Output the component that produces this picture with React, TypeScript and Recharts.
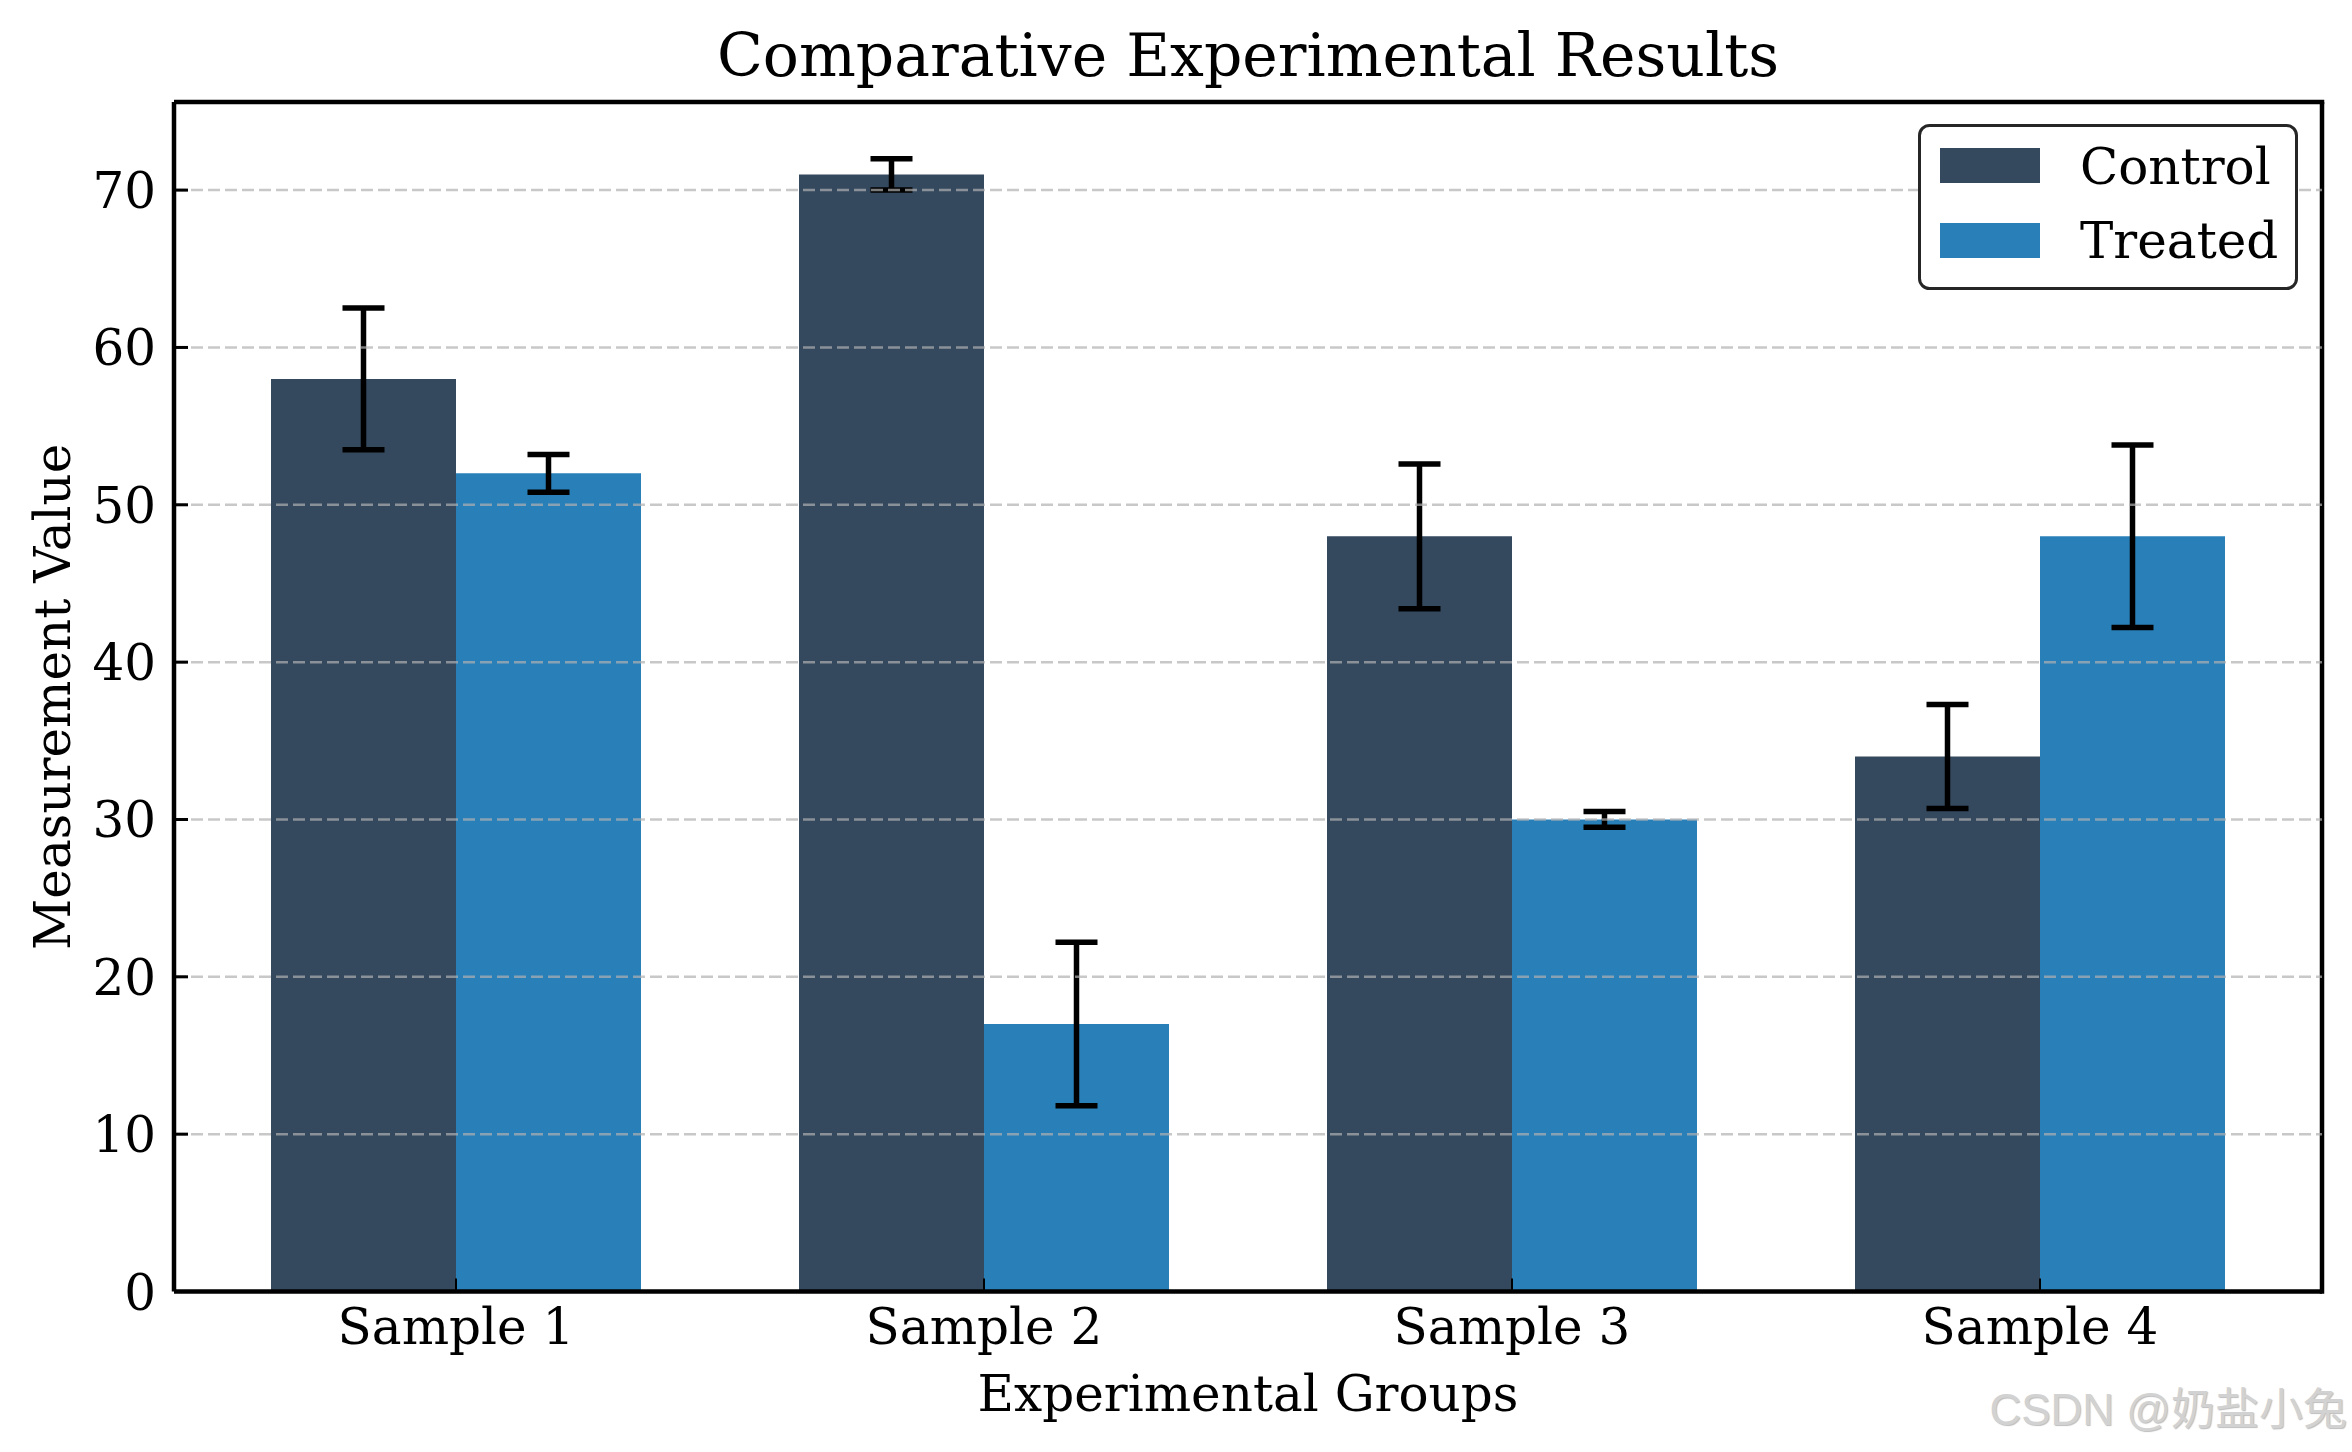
import React from 'react';
import { BarChart, Bar, XAxis, YAxis, ErrorBar, ReferenceLine, ReferenceArea, Legend, Label } from 'recharts';

// ---- data ----
const samples = ['Sample 1', 'Sample 2', 'Sample 3', 'Sample 4'];
const controlValues = [58, 71, 48, 34];
const controlErrors = [4.5, 1.0, 4.6, 3.3];
const treatedValues = [52, 17, 30, 48];
const treatedErrors = [1.2, 5.2, 0.5, 5.8];
const yTicks = [0, 10, 20, 30, 40, 50, 60, 70];
const gridLevels = [10, 20, 30, 40, 50, 60, 70];
const yMax = 75.6;
const seriesNames = ['Control', 'Treated'];
const seriesColors = ['#34495e', '#2980b9'];

const data = samples.map((sample, i) => ({
  sample,
  control: controlValues[i],
  controlErr: controlErrors[i],
  treated: treatedValues[i],
  treatedErr: treatedErrors[i],
}));

const FONT = '"DejaVu Serif", serif';
const W = 2352;
const H = 1452;
const SPINE = 4.5;
// outer padding of the category axis; the reference area spans the padded
// range, so the frame is widened by this amount to reach the spines
const PAD = 18;

const YTick = (props: any) => {
  const { x, y, payload } = props;
  return (
    <text x={x} y={y} dy={18} textAnchor="end" fontFamily={FONT} fontSize={50} fill="#000">
      {payload.value}
    </text>
  );
};

const XTick = (props: any) => {
  const { x, y, payload } = props;
  return (
    <text x={x} y={y + 52.5} textAnchor="middle" fontFamily={FONT} fontSize={50} fill="#000">
      {payload.value}
    </text>
  );
};

// dashed horizontal grid line plus an inward black tick on the left spine
const GridWithTick = (props: any) => {
  const { x1, y1, x2 } = props;
  const left = Math.min(x1, x2);
  const right = Math.max(x1, x2);
  return (
    <g>
      <line x1={left} x2={right} y1={y1} y2={y1} stroke="#b0b0b0" strokeOpacity={0.7} strokeWidth={2.5} strokeDasharray="12 5" />
      <line x1={left} x2={left + 14} y1={y1} y2={y1} stroke="#000" strokeWidth={3} />
    </g>
  );
};

// short inward tick at each category centre on the bottom spine
const CategoryTick = (props: any) => {
  const { x1, y1, y2 } = props;
  const bottom = Math.max(y1, y2);
  return <line x1={x1} x2={x1} y1={bottom} y2={bottom - 13} stroke="#000" strokeWidth={2} />;
};

// top and right spines of the plot frame
const Frame = (props: any) => {
  const { x, y, width, height } = props;
  const left = x - PAD;
  const right = x + width + PAD;
  return (
    <g>
      <line x1={left} x2={right + SPINE / 2} y1={y} y2={y} stroke="#000" strokeWidth={SPINE} />
      <line x1={right} x2={right} y1={y} y2={y + height + SPINE / 2} stroke="#000" strokeWidth={SPINE} />
    </g>
  );
};

const TitleLabel = (props: any) => {
  const vb = props.viewBox || {};
  return (
    <text x={vb.x + vb.width / 2} y={vb.y - 26} textAnchor="middle" fontFamily={FONT} fontSize={60} fill="#000">
      Comparative Experimental Results
    </text>
  );
};

const XTitle = (props: any) => {
  const vb = props.viewBox || {};
  return (
    <text x={vb.x + vb.width / 2} y={vb.y + 119.5} textAnchor="middle" fontFamily={FONT} fontSize={50} fill="#000">
      Experimental Groups
    </text>
  );
};

const YTitle = (props: any) => {
  const vb = props.viewBox || {};
  const cx = vb.x + 70;
  const cy = vb.y + vb.height / 2;
  return (
    <text x={cx} y={cy} transform={`rotate(-90, ${cx}, ${cy})`} textAnchor="middle" fontFamily={FONT} fontSize={50} fill="#000">
      Measurement Value
    </text>
  );
};

const LegendBox = () => (
  <svg width={380} height={168} style={{ display: 'block' }}>
    <rect x={1.5} y={1.5} width={377} height={163} rx={10} ry={10} fill="#fff" stroke="#262626" strokeWidth={3} />
    {seriesNames.map((name, i) => (
      <g key={name}>
        <rect x={22} y={24 + i * 75} width={100} height={35} fill={seriesColors[i]} />
        <text x={162} y={60 + i * 74} fontFamily={FONT} fontSize={50} fill="#000">
          {name}
        </text>
      </g>
    ))}
  </svg>
);

export default function App() {
  return (
    <div style={{ position: 'absolute', left: 0, top: 0, width: W, height: H, background: '#fff' }}>
      <BarChart
        width={W}
        height={H}
        data={data}
        margin={{ top: 102, right: 30, bottom: 0, left: 0 }}
        barGap={0}
        barSize={185}
      >
        <XAxis
          dataKey="sample"
          height={160.5}
          padding={{ left: PAD, right: PAD }}
          tickSize={0}
          tickMargin={0}
          tickLine={false}
          tick={<XTick />}
          axisLine={{ stroke: '#000', strokeWidth: SPINE }}
          stroke="#000"
          strokeWidth={SPINE}
          interval={0}
        >
          <Label content={<XTitle />} />
        </XAxis>
        <YAxis
          width={174}
          domain={[0, yMax]}
          ticks={yTicks}
          tickSize={0}
          tickMargin={18}
          tickLine={false}
          tick={<YTick />}
          axisLine={{ stroke: '#000', strokeWidth: SPINE }}
          stroke="#000"
          strokeWidth={SPINE}
          allowDataOverflow
        >
          <Label content={<YTitle />} />
        </YAxis>
        <Bar dataKey="control" name="Control" fill={seriesColors[0]} isAnimationActive={false}>
          <ErrorBar dataKey="controlErr" width={21} strokeWidth={5.5} stroke="#000" />
        </Bar>
        <Bar dataKey="treated" name="Treated" fill={seriesColors[1]} isAnimationActive={false}>
          <ErrorBar dataKey="treatedErr" width={21} strokeWidth={5.5} stroke="#000" />
        </Bar>
        {gridLevels.map((v) => (
          <ReferenceLine key={v} y={v} shape={<GridWithTick />} />
        ))}
        {samples.map((s) => (
          <ReferenceLine key={s} x={s} shape={<CategoryTick />} />
        ))}
        <ReferenceArea
          y1={0}
          y2={yMax}
          ifOverflow="visible"
          shape={<Frame />}
          label={<TitleLabel />}
        />
        <Legend
          layout="horizontal"
          verticalAlign="middle"
          align="center"
          content={<LegendBox />}
          wrapperStyle={{ position: 'absolute', left: 1918, top: 124, width: 380, height: 168 }}
        />
      </BarChart>
      <div
        style={{
          position: 'absolute',
          right: 5,
          top: 1384,
          fontFamily: '"Liberation Sans", "Noto Sans CJK SC", sans-serif',
          fontSize: 44,
          color: '#d2d2d2',
          lineHeight: '52px',
          whiteSpace: 'nowrap',
          textShadow: '1px 1px 1px #bdbdbd',
        }}
      >
        CSDN @奶盐小兔
      </div>
    </div>
  );
}
